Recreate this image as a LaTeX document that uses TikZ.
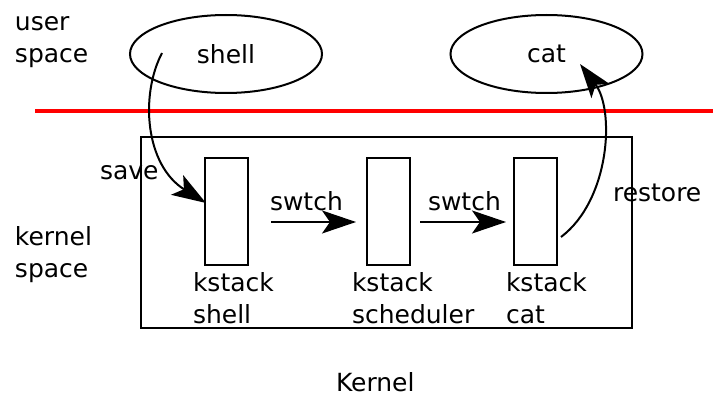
\documentclass[tikz,border=0pt]{standalone}
\usepackage{fontspec}
\setmainfont{DejaVu Sans}
\usetikzlibrary{arrows.meta,shapes.geometric}
\begin{document}
\begin{tikzpicture}[x=1pt,y=-1pt, line width=2pt,
  font=\fontsize{25}{32}\selectfont,
  lbl/.style={anchor=base west, inner sep=0pt, align=left},
  stackbox/.style={draw, line width=2pt, minimum width=43pt, minimum height=107pt, inner sep=0pt},
  space/.style={draw, ellipse, line width=2pt, minimum width=192pt, minimum height=78pt, inner sep=0pt},
  tip/.style={-{Stealth[length=34pt,width=23pt,inset=8pt]}}]
\useasboundingbox (0,0) rectangle (713,396);
% user space processes
\node[space] (shellE) at (226,54) {shell};
\node[space] (catE) at (546.5,54) {cat};
% boundary
\coordinate (bL) at (35,111);
\coordinate (bR) at (713,111);
\draw[red, line width=4pt] (bL) -- (bR);
% kernel box
\node[draw, line width=2pt, inner sep=0pt, minimum width=491pt, minimum height=191pt] (kernel) at (386.5,232.5) {};
% kernel stacks
\node[stackbox] (s1) at (226.5,211.5) {};
\node[stackbox] (s2) at (388.5,211.5) {};
\node[stackbox] (s3) at (535.5,211.5) {};
% labels (base anchor = baseline of last line)
\node[lbl] (us) at (14,63) {user\\space};
\node[lbl] (ks) at (14,277) {kernel\\space};
\node[lbl] (k1) at (192,323) {kstack\\shell};
\node[lbl] (k2) at (351,323) {kstack\\scheduler};
\node[lbl] (k3) at (505,323) {kstack\\cat};
\node[lbl] (kl) at (335,391) {Kernel};
\node[lbl] (sv) at (99,179) {save};
\node[lbl] (rs) at (612,201) {restore};
\node[lbl] (sw1) at (269,210) {swtch};
\node[lbl] (sw2) at (427,210) {swtch};
% connectors
\draw[tip] ([shift={(22,10.5)}]s1.east) -- ([shift={(-10,10.5)}]s2.west);
\draw[tip] ([shift={(9,10.5)}]s2.east) -- ([shift={(-7,10.5)}]s3.west);
\coordinate (saveS) at (162,53);
\draw[tip] (saveS) .. controls (140,95) and (145,165) .. ([shift={(2,-8.5)}]s1.west);
\coordinate (restE) at (580,64);
\draw[tip] ([shift={(3,25.5)}]s3.east) .. controls (610,200) and (615,110) .. (restE);
\end{tikzpicture}
\end{document}
